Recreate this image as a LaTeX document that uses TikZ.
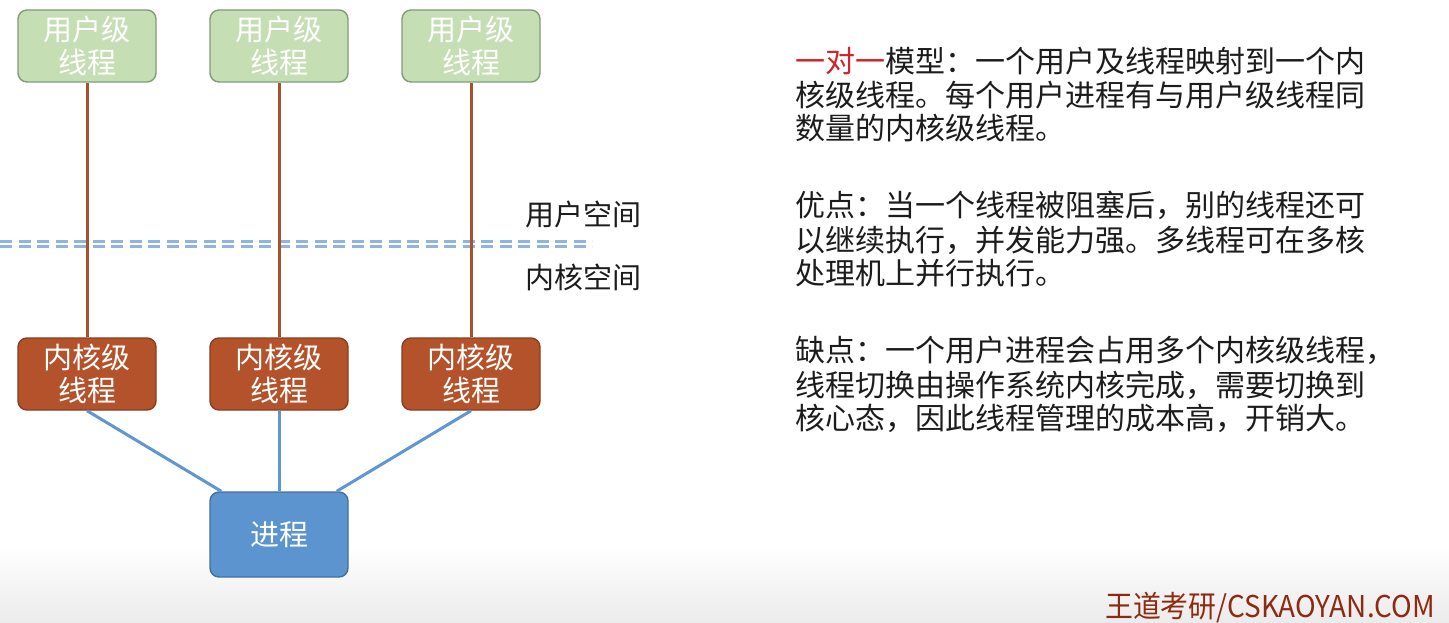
\documentclass[tikz,border=0pt]{standalone}
\usepackage{fontspec}
\setmainfont{Noto Sans CJK SC}
\newfontfamily\cjk{Noto Sans CJK SC}
\usetikzlibrary{positioning}
\definecolor{ugreen}{HTML}{C6DEB4}
\definecolor{ugreenb}{HTML}{7E9C78}
\definecolor{kbrown}{HTML}{B4522B}
\definecolor{kbrownb}{HTML}{87401F}
\definecolor{pblue}{HTML}{5B94CE}
\definecolor{pblueb}{HTML}{41709F}
\definecolor{lbrown}{HTML}{A8522B}
\definecolor{lblue}{HTML}{5E97D2}
\definecolor{dblue}{HTML}{8DB4E2}
\definecolor{txt}{HTML}{1C1C1C}
\definecolor{redtxt}{HTML}{D0232B}
\definecolor{wm}{HTML}{8E2A12}
\definecolor{barg}{HTML}{EBEBEB}
\tikzset{
  ubox/.style={rectangle, rounded corners=9pt, fill=ugreen, draw=ugreenb, line width=1.4pt,
    minimum width=138pt, minimum height=72pt, text=white, align=center,
    font=\cjk\fontsize{29}{33}\selectfont, inner sep=0pt},
  kbox/.style={ubox, fill=kbrown, draw=kbrownb, text=white},
  pbox/.style={ubox, fill=pblue, draw=pblueb, minimum height=85pt},
  bline/.style={draw=lbrown, line width=3pt},
  pline/.style={draw=lblue, line width=3pt},
  dline/.style={draw=dblue, line width=2.4pt, dash pattern=on 12pt off 6.5pt},
  side/.style={font=\cjk\fontsize{29}{33}\selectfont, text=txt, inner sep=0pt, anchor=west},
  para/.style={font=\cjk\fontsize{30}{34}\selectfont, text=txt, inner sep=0pt, anchor=west},
}
\begin{document}
\begin{tikzpicture}[x=1pt, y=-1pt]
\useasboundingbox (0,0) rectangle (1449,623);
\fill[white] (0,0) rectangle (1449,623);
\shade[top color=white, bottom color=barg] (0,545) rectangle (1449,623);

% user-level threads
\node[ubox] (u1) at (87,46) {用户级\\线程};
\node[ubox] (u2) at (279,46) {用户级\\线程};
\node[ubox] (u3) at (471,46) {用户级\\线程};

% kernel-level threads
\node[kbox] (k1) at (87,374) {内核级\\线程};
\node[kbox] (k2) at (279,374) {内核级\\线程};
\node[kbox] (k3) at (471,374) {内核级\\线程};

% process
\node[pbox] (p) at (279,534.5) {进程};

% boundary
\coordinate (dl) at (0,241.5);
\coordinate (dr) at (592,241.5);
\coordinate (dl2) at (0,246.5);
\coordinate (dr2) at (592,246.5);
\draw[dline] (dl) -- (dr);
\draw[dline] (dl2) -- (dr2);

% connectors
\draw[bline] (u1.south) -- (k1.north);
\draw[bline] (u2.south) -- (k2.north);
\draw[bline] (u3.south) -- (k3.north);
\draw[pline] (k1.south) -- ([xshift=12pt]p.north west);
\draw[pline] (k2.south) -- (p.north);
\draw[pline] (k3.south) -- ([xshift=-12pt]p.north east);

\node[side] (us) at (525,214) {用户空间};
\node[side] (ks) at (525,277) {内核空间};

% description text
\node[para] (a1) at (795,61) {\textcolor{redtxt}{一对一}模型：一个用户及线程映射到一个内};
\node[para] (a2) at (795,95) {核级线程。每个用户进程有与用户级线程同};
\node[para] (a3) at (795,128) {数量的内核级线程。};
\node[para] (b1) at (795,205) {优点：当一个线程被阻塞后，别的线程还可};
\node[para] (b2) at (795,240) {以继续执行，并发能力强。多线程可在多核};
\node[para] (b3) at (795,273) {处理机上并行执行。};
\node[para] (c1) at (795,350) {缺点：一个用户进程会占用多个内核级线程，};
\node[para] (c2) at (795,385) {线程切换由操作系统内核完成，需要切换到};
\node[para] (c3) at (795,418) {核心态，因此线程管理的成本高，开销大。};

% watermark
\node[anchor=west, inner sep=0pt, text=wm, font=\cjk\fontsize{30}{32}\selectfont, xscale=0.93] (wmk) at (1105,608) {王道考研/CSKAOYAN.COM};
\end{tikzpicture}
\end{document}
